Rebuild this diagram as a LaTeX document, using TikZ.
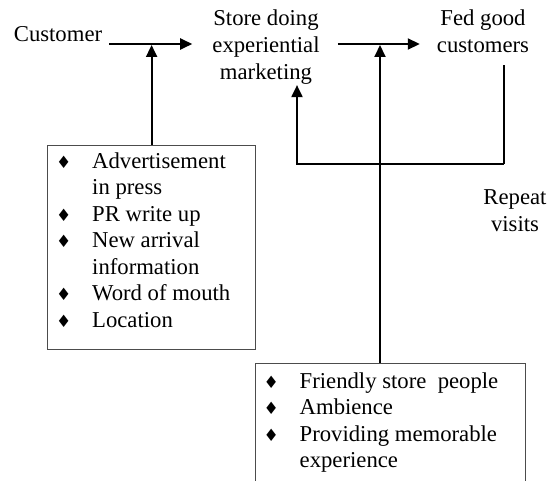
\documentclass[tikz,border=0pt]{standalone}
\usepackage{fontspec}
\setmainfont{Liberation Serif}
\newfontfamily\dingfont{DejaVu Sans}
\usetikzlibrary{arrows.meta}

\newcommand{\dmd}{\makebox[36pt][l]{\dingfont\fontsize{17}{17}\selectfont ♦}}

\tikzset{
	flow/.style={line width=2pt,-{Triangle[length=12pt,width=11pt]}},
	listbox/.style={draw=black!70,line width=1.2pt,inner sep=0pt,anchor=north west},
	listtext/.style={inner sep=0pt,anchor=north west,font=\fontsize{22.7}{26.5}\selectfont},
	label/.style={inner sep=0pt,anchor=base,align=center}
}

\begin{document}
\begin{tikzpicture}[x=1pt,y=-1pt,font=\fontsize{22.7}{27}\selectfont]
	\useasboundingbox (0,0) rectangle (552,481);
	\clip (0,0) rectangle (552,481);
	
	\node[label] (cust) at (58,42) {Customer};
	\node[label] (store) at (266,80) {Store doing\\experiential\\marketing};
	\node[label] (fed) at (483,53) {Fed good\\customers};
	\node[label] (repeat) at (515,232) {Repeat\\visits};
	
	\node[listbox,minimum width=208pt,minimum height=204pt] (adbox) at (47,145) {};
	\node[listtext] (adlist) at (56,149.5) {\begin{tabular}{@{}l@{}l@{}}
			\dmd & Advertisement\\
			& in press\\
			\dmd & PR write up\\
			\dmd & New arrival\\
			& information\\
			\dmd & Word of mouth\\
			\dmd & Location
	\end{tabular}};
	
	\node[listbox,minimum width=270pt,minimum height=140pt] (exbox) at (255,363) {};
	\node[listtext] (exlist) at (263.5,369.4) {\begin{tabular}{@{}l@{}l@{}}
			\dmd & Friendly store\ \ people\\
			\dmd & Ambience\\
			\dmd & Providing memorable\\
			& experience
	\end{tabular}};
	
	\coordinate (j1) at (152,44);
	\coordinate (j2) at (380,44);
	\draw[flow,shorten <=7pt,shorten >=20pt] (cust.base east |- j1) -- (store.west |- j1);
	\draw[flow,shorten <=18pt,shorten >=17pt] (store.east |- j2) -- (fed.west |- j2);
	\draw[flow,shorten >=1pt] (adbox.north) -- (adbox.north |- j1);
	\draw[flow,shorten >=1pt] (j2 |- exbox.north) -- (j2);
	
	% repeat visits loop
	\coordinate (fbr) at (504,164);
	\coordinate (fbl) at (297,164);
	\draw[line width=1.2pt,shorten <=12pt] (fed.south -| fbr) -- (fbr);
	\draw[flow] (fbr) -- (fbl) -- (store.south -| fbl);
\end{tikzpicture}
\end{document}
